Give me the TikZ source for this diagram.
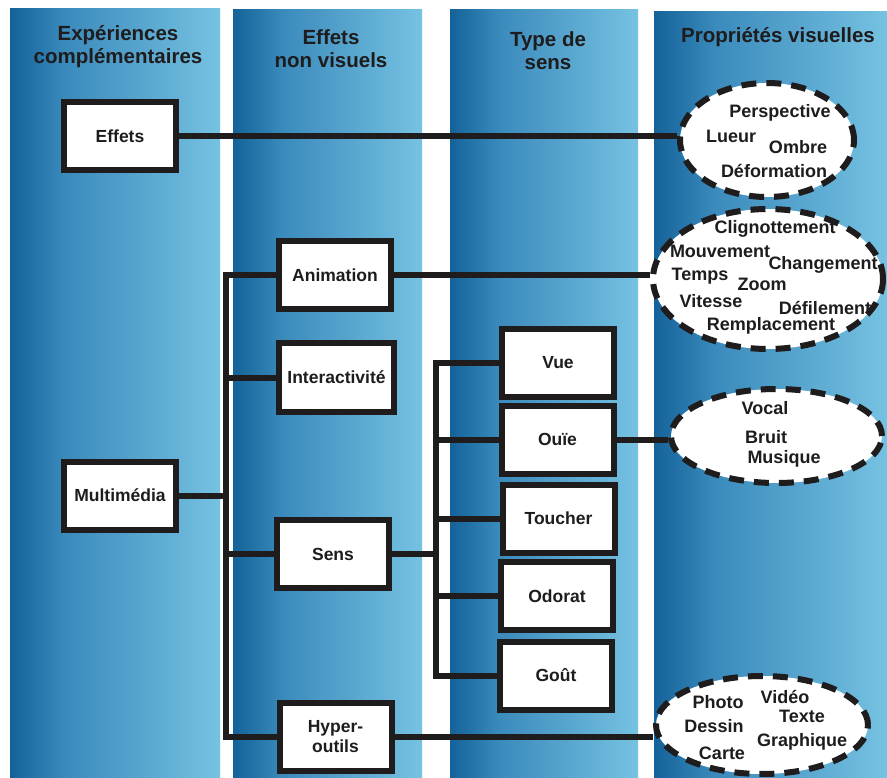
\documentclass[tikz,border=0pt]{standalone}
\usepackage{fontspec}
\setmainfont{Liberation Sans}
\usetikzlibrary{shapes.geometric}
\definecolor{mmdark}{RGB}{20,98,153}
\definecolor{mmmid}{RGB}{58,138,188}
\definecolor{mmlight}{RGB}{118,194,226}
\definecolor{mmink}{RGB}{30,28,28}
\pgfdeclarehorizontalshading{mmband}{100bp}{color(0bp)=(mmdark); color(25bp)=(mmdark); color(38bp)=(mmmid); color(75bp)=(mmlight); color(100bp)=(mmlight)}
\tikzset{
  mmcol/.style={shading=mmband},
  mmhead/.style={font=\fontsize{20.5}{23}\selectfont\bfseries, text=mmink, align=center},
  mmbox/.style={draw=mmink, line width=6pt, fill=white, minimum width=112pt, minimum height=68pt, inner sep=2pt, font=\fontsize{17.5}{20}\selectfont\bfseries, text=mmink, align=center},
  mmcloud/.style={ellipse, draw=mmink, line width=6pt, dash pattern=on 15pt off 10pt, fill=white, inner sep=0pt},
  mmword/.style={font=\fontsize{18}{20}\selectfont\bfseries, text=mmink, inner sep=0pt},
  mmlink/.style={draw=mmink, line width=6pt}
}

\begin{document}
\begin{tikzpicture}[x=1pt, y=-1pt]
  \useasboundingbox[fill=white] (0,0) rectangle (887,778);
  % colonnes
  \shade[mmcol] (10,9) rectangle (220,778);
  \shade[mmcol] (233,10) rectangle (422,778);
  \shade[mmcol] (450,10) rectangle (638,778);
  \shade[mmcol] (654,12) rectangle (887,778);
  \node[mmhead] (hexp) at (118,47) {Expériences\\complémentaires};
  \node[mmhead] (hnv) at (331,49) {Effets\\non visuels};
  \node[mmhead] (hsens) at (548,51) {Type de\\sens};
  \node[mmhead] (hprop) at (778,37) {Propriétés visuelles};

  % boites
  \node[mmbox] (effets) at (120,136) {Effets};
  \node[mmbox] (multi) at (120,495.5) {Multimédia};
  \node[mmbox] (anim) at (335,275) {Animation};
  \node[mmbox, minimum width=115pt] (inter) at (336.5,377.5) {Interactivité};
  \node[mmbox] (sens) at (333,554) {Sens};
  \node[mmbox] (hyper) at (335.5,736.5) {Hyper-\\outils};
  \node[mmbox] (vue) at (558,363) {Vue};
  \node[mmbox] (ouie) at (557.5,439.5) {Ouïe};
  \node[mmbox] (toucher) at (558.5,518.5) {Toucher};
  \node[mmbox] (odorat) at (557,596) {Odorat};
  \node[mmbox] (gout) at (556,675.5) {Goût};

  % ellipses
  \node[mmcloud, minimum width=174pt, minimum height=114pt] (cvis) at (767,140) {};
  \node[mmcloud, minimum width=230pt, minimum height=140pt] (canim) at (768,279) {};
  \node[mmcloud, minimum width=211pt, minimum height=94pt] (couie) at (776.5,436) {};
  \node[mmcloud, minimum width=212pt, minimum height=98pt] (chyper) at (762,725) {};

  \node[mmword] (wpersp) at (780,113) {Perspective};
  \node[mmword] (wlueur) at (731,136) {Lueur};
  \node[mmword] (wombre) at (798,147) {Ombre};
  \node[mmword] (wdeform) at (774,171) {Déformation};

  \node[mmword] (wcligno) at (775,229) {Clignottement};
  \node[mmword] (wmouv) at (720,251) {Mouvement};
  \node[mmword] (wchang) at (823,265) {Changement};
  \node[mmword] (wtemps) at (700,276) {Temps};
  \node[mmword] (wzoom) at (762,284) {Zoom};
  \node[mmword] (wvit) at (711,301) {Vitesse};
  \node[mmword] (wdefil) at (825,308) {Défilement};
  \node[mmword] (wrempl) at (771,326) {Remplacement};

  \node[mmword] (wvocal) at (765,408) {Vocal};
  \node[mmword] (wbruit) at (766,437) {Bruit};
  \node[mmword] (wmusique) at (784,459) {Musique};

  \node[mmword] (wphoto) at (718,702) {Photo};
  \node[mmword] (wvideo) at (785,697) {Vidéo};
  \node[mmword] (wdessin) at (714,726) {Dessin};
  \node[mmword] (wtexte) at (802,716) {Texte};
  \node[mmword] (wcarte) at (722,753) {Carte};
  \node[mmword] (wgraph) at (802,742) {Graphique};

  % liaisons
  \coordinate (tA) at (225.5,0);
  \coordinate (tB) at (436,0);
  \draw[mmlink] (effets.east) -- (effets.east -| cvis.west);
  \draw[mmlink] (multi.east) -- (multi.east -| tA);
  \draw[mmlink] (anim.west) -- (anim.west -| tA) -- (hyper.west -| tA) -- (hyper.west);
  \draw[mmlink] (inter.west) -- (inter.west -| tA);
  \draw[mmlink] (sens.west) -- (sens.west -| tA);
  \draw[mmlink] (anim.east) -- (anim.east -| canim.west);
  \draw[mmlink] (sens.east) -- (sens.east -| tB);
  \draw[mmlink] (vue.west) -- (vue.west -| tB) -- (gout.west -| tB) -- (gout.west);
  \draw[mmlink] (ouie.west) -- (ouie.west -| tB);
  \draw[mmlink] (toucher.west) -- (toucher.west -| tB);
  \draw[mmlink] (odorat.west) -- (odorat.west -| tB);
  \draw[mmlink] (ouie.east) -- (ouie.east -| couie.west);
  \draw[mmlink] (hyper.east) -- (hyper.east -| chyper.west);
\end{tikzpicture}
\end{document}
